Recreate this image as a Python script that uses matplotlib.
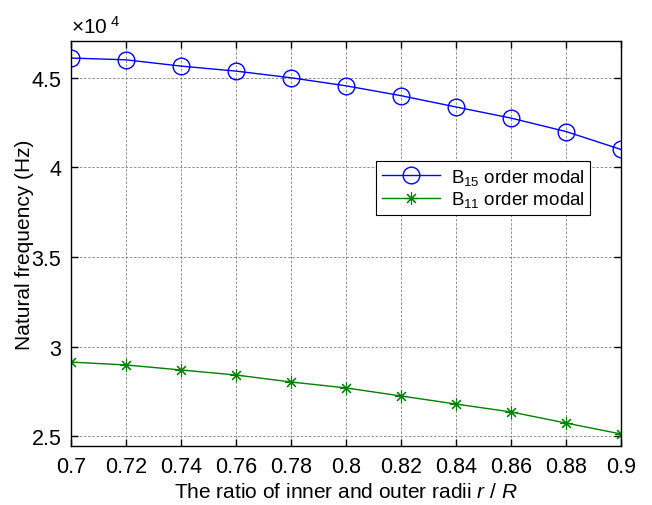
import numpy as np
import matplotlib.pyplot as plt

plt.rcParams['font.family'] = ['Liberation Sans', 'DejaVu Sans']
plt.rcParams['mathtext.fontset'] = 'custom'
plt.rcParams['mathtext.rm'] = 'Liberation Sans'
plt.rcParams['mathtext.it'] = 'Liberation Sans:italic'

ratio = [0.70, 0.72, 0.74, 0.76, 0.78, 0.80, 0.82, 0.84, 0.86, 0.88, 0.90]
b15 = [4.61, 4.60, 4.565, 4.537, 4.50, 4.455, 4.40, 4.337, 4.275, 4.20, 4.10]
b11 = [2.914, 2.898, 2.870, 2.842, 2.803, 2.770, 2.725, 2.680, 2.636, 2.574, 2.513]
xticks = [0.7, 0.72, 0.74, 0.76, 0.78, 0.8, 0.82, 0.84, 0.86, 0.88, 0.9]
xtick_labels = ['0.7', '0.72', '0.74', '0.76', '0.78', '0.8', '0.82', '0.84', '0.86', '0.88', '0.9']
yticks = [2.5, 3, 3.5, 4, 4.5]
ytick_labels = ['2.5', '3', '3.5', '4', '4.5']

fig = plt.figure(figsize=(6.52, 5.06), dpi=100)
ax = fig.add_axes([71 / 652, 1 - 447 / 506, 550 / 652, 405 / 506])

ax.plot(ratio, b15, color='blue', lw=1, marker='o', markersize=12,
        markerfacecolor='none', markeredgecolor='blue', markeredgewidth=1,
        label='B$_{15}$ order modal')
ax.plot(ratio, b11, color='green', lw=1, marker=(8, 2, 0), markersize=9,
        markeredgecolor='green', markeredgewidth=0.8,
        label='B$_{11}$ order modal')

ax.set_xlim(0.7, 0.9)
ax.set_ylim(2.446, 4.705)
ax.set_xticks(xticks)
ax.set_xticklabels(xtick_labels)
ax.set_yticks(yticks)
ax.set_yticklabels(ytick_labels)
ax.tick_params(direction='in', top=True, right=True, labelsize=15.5, length=5, width=1, pad=7)
for s in ax.spines.values():
    s.set_linewidth(1)
ax.grid(True, color='#808080', linestyle=(0, (3, 2)), linewidth=0.6)

ax.set_xlabel('The ratio of inner and outer radii $r$ / $R$', fontsize=15, labelpad=4)
ax.set_ylabel('Natural frequency (Hz)', fontsize=15)
ax.yaxis.set_label_coords(-0.068, 0.5)
ax.text(0.0, 1.01, r'$\times$10$^{\ 4}$', transform=ax.transAxes, fontsize=15,
        ha='left', va='bottom')

leg = ax.legend(loc='upper left', bbox_to_anchor=(305 / 550, 1 - 120 / 405),
                borderaxespad=0, fontsize=13.5, fancybox=False, framealpha=1,
                edgecolor='black', handlelength=3.1, borderpad=0.3,
                labelspacing=0.15, handletextpad=0.6)
leg.get_frame().set_linewidth(0.8)

fig.savefig('out.png', dpi=100)
